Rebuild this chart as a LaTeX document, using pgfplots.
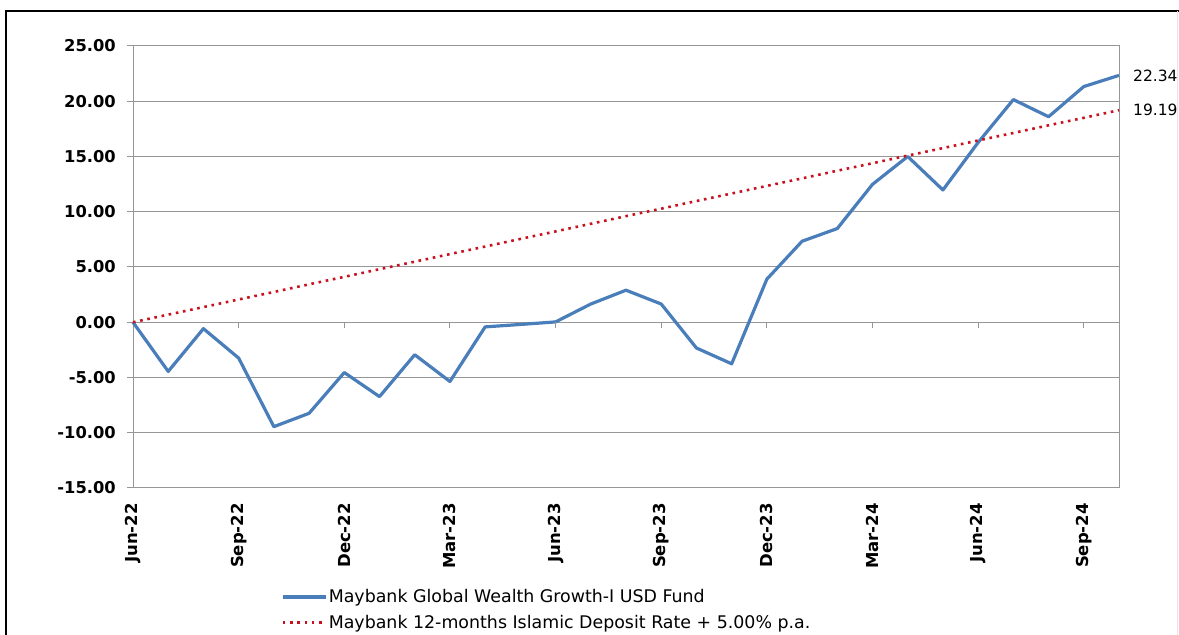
\documentclass[border=0pt]{standalone}
\usepackage{pgfplots}
\pgfplotsset{compat=1.18}
\usepackage{fontspec}
\setmainfont{DejaVu Sans}
\definecolor{fundblue}{RGB}{74,126,187}
\definecolor{benchred}{RGB}{200,16,30}
\definecolor{gridgray}{RGB}{150,150,150}
\begin{document}
\begin{tikzpicture}[x=1pt,y=1pt]
\useasboundingbox (0,0) rectangle (1179,635);
\draw[black, line width=1.6pt] (6,0) -- (6,624) -- (1179,624);
\draw[gray!20, line width=0.8pt] (1177,0) -- (1177,624);
\begin{axis}[
  at={(133pt,147pt)}, anchor=south west,
  scale only axis, width=986pt, height=442pt,
  xmin=0, xmax=28, ymin=-15, ymax=25,
  clip=false,
  axis line style={gridgray, line width=1pt},
  ytick={-15,-10,...,25},
  ymajorgrids, grid style={gridgray, line width=1pt},
  major tick length=6pt,
  tick align=outside,
  y tick style={gridgray, line width=1pt},
  x tick style={draw=none},
  xtick={0,3,...,27},
  xticklabels={Jun-22,Sep-22,Dec-22,Mar-23,Jun-23,Sep-23,Dec-23,Mar-24,Jun-24,Sep-24},
  xtick pos=bottom, ytick pos=left,
  x tick label style={rotate=90, anchor=east, font=\fontsize{16.5}{19}\selectfont\bfseries, inner xsep=9pt, inner ysep=0pt},
  y tick label style={anchor=east, font=\fontsize{16.3}{19}\selectfont\bfseries, inner sep=0pt, xshift=-11pt},
  yticklabel style={/pgf/number format/.cd, fixed, fixed zerofill, precision=2, assume math mode=true},
  legend style={at={(0.150,-0.226)}, anchor=north west, draw=none, fill=none,
    font=\fontsize{17.4}{20}\selectfont, row sep=8pt, inner sep=0pt,
    nodes={inner sep=1.5pt}},
  legend cell align=left,
  legend image code/.code={\draw[#1] (0pt,0pt) -- (43pt,0pt);},
]
\addplot[fundblue, line width=3.2pt, line join=round] coordinates {
(0,0) (1,-4.45) (2,-0.58) (3,-3.24) (4,-9.45) (5,-8.24) (6,-4.55) (7,-6.73)
(8,-2.94) (9,-5.36) (10,-0.42) (11,-0.20) (12,0.03) (13,1.65) (14,2.90)
(15,1.65) (16,-2.33) (17,-3.76) (18,3.90) (19,7.33) (20,8.48) (21,12.48)
(22,15.00) (23,11.97) (24,16.27) (25,20.15) (26,18.60) (27,21.33) (28,22.34)
};
\addlegendentry{Maybank Global Wealth Growth-I USD Fund}
\addplot[benchred, line width=2.6pt, dash pattern=on 2.6pt off 4.7pt] coordinates {
(0,0) (1,0.69) (2,1.37) (3,2.06) (4,2.74) (5,3.43) (6,4.11) (7,4.80)
(8,5.48) (9,6.17) (10,6.85) (11,7.54) (12,8.22) (13,8.91) (14,9.60)
(15,10.28) (16,10.97) (17,11.65) (18,12.34) (19,13.02) (20,13.71) (21,14.39)
(22,15.08) (23,15.76) (24,16.45) (25,17.13) (26,17.82) (27,18.50) (28,19.19)
};
\addlegendentry{Maybank 12-months Islamic Deposit Rate + 5.00\% p.a.}
\pgfplotsinvokeforeach{3,6,...,27}{
  \draw[gridgray, line width=1pt] (axis cs:#1,0) -- ++(0pt,-6pt);
}
\node[anchor=west, font=\fontsize{15.5}{18}\selectfont, inner sep=0pt] at (axis cs:28,22.34) [xshift=14pt] {22.34};
\node[anchor=west, font=\fontsize{15.5}{18}\selectfont, inner sep=0pt] at (axis cs:28,19.19) [xshift=14pt] {19.19};
\end{axis}
\end{tikzpicture}
\end{document}
